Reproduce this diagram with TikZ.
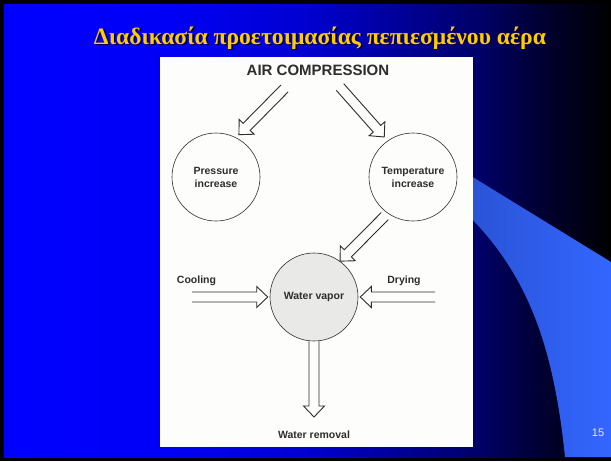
\documentclass[tikz,border=0pt]{standalone}
\usepackage{fontspec}
\setmainfont{Liberation Serif}
\newfontfamily\labelfont{Liberation Sans}
\usetikzlibrary{calc, positioning}

\definecolor{titlegold}{RGB}{255,204,0}
\definecolor{swoosh}{RGB}{51,102,255}
\definecolor{swooshdark}{RGB}{40,80,205}
\definecolor{ink}{RGB}{45,45,45}
\definecolor{vapor}{RGB}{233,233,231}
\definecolor{paper}{RGB}{253,253,251}
\pgfdeclarehorizontalshading{slidebg}{100bp}{rgb(0bp)=(0,0,1); rgb(25bp)=(0,0,1); rgb(38bp)=(0,0,0.97); rgb(50bp)=(0,0,0.82); rgb(64bp)=(0,0,0.42); rgb(70bp)=(0,0,0.18); rgb(75bp)=(0,0,0.02); rgb(100bp)=(0,0,0)}

\tikzset{
  tag/.style = {font=\labelfont\bfseries\fontsize{10.5}{13}\selectfont, text=ink},
  bubble/.style = {circle, draw=ink, line width=0.6pt, minimum size=88pt, inner sep=0pt,
    align=center, tag},
  hollow/.style = {draw=ink, line width=0.9pt, line join=miter, to path={
    let \p1=(\tikztostart), \p2=(\tikztotarget), \n1={atan2(\y2-\y1,\x2-\x1)} in
    ($(\p1)+(\n1+90:5pt)$) -- ($(\p2)+(\n1+180:11pt)+(\n1+90:5pt)$)
    -- ($(\p2)+(\n1+180:11pt)+(\n1+90:10.5pt)$) -- (\p2)
    -- ($(\p2)+(\n1+180:11pt)+(\n1-90:10.5pt)$)
    -- ($(\p2)+(\n1+180:11pt)+(\n1-90:5pt)$) -- ($(\p1)+(\n1-90:5pt)$)}}
}

\begin{document}
\begin{tikzpicture}[x=1pt, y=-1pt, node distance=100pt, on grid]
  \useasboundingbox (0,0) rectangle (611,461);
  \fill[black] (0,0) rectangle (611,461);
  \shade[shading=slidebg] (4,4) rectangle (607,457);
  \shade[left color=swooshdark, right color=swoosh]
    (440,157) -- (611,262) -- (611,457) -- (565,457)
    .. controls (552,330) and (520,255) .. (440,190) -- cycle;
  \fill[paper] (160,57) rectangle (473,447);

  \node[font=\bfseries\fontsize{23.6}{26}\selectfont, text=black!75!blue] at (321.5,39.5)
    {Διαδικασία προετοιμασίας πεπιεσμένου αέρα};
  \node[font=\bfseries\fontsize{23.6}{26}\selectfont, text=titlegold] (t) at (320,38)
    {Διαδικασία προετοιμασίας πεπιεσμένου αέρα};

  \node[tag, font=\labelfont\bfseries\fontsize{15}{17}\selectfont] (0) at (318,70) {AIR COMPRESSION};
  \node[bubble] (1) at (216,177) {Pressure\\increase};
  \node[bubble] [right=197pt of 1] (2) {Temperature\\increase};
  \node[bubble, fill=vapor] (3) at (314,297) {Water vapor};
  \node[tag] [below=138pt of 3] (4) {Water removal};
  \node[tag] (5) at (196.5,281) {Cooling};
  \node[tag] (6) at (404,281) {Drying};
  \node[font=\labelfont\fontsize{11}{13}\selectfont, text=white!85!gray] (7) at (598,433) {15};

  \coordinate (a) at (284.5,88.5);
  \coordinate (b) at (340,87);
  \coordinate (c) at (192,297);
  \coordinate (d) at (435,297);
  \coordinate (e) at (314,417);

  \path
    (a) edge[hollow] ($(1.63)!4pt!(a)$)
    (b) edge[hollow] ($(2.125)!5pt!(b)$)
    ($(2.235)!4pt!(3.54)$) edge[hollow] (3.54)
    (c) edge[hollow] ([xshift=-2pt]3.west)
    (d) edge[hollow] ([xshift=2pt]3.east)
    (3.south) edge[hollow] (e);
\end{tikzpicture}
\end{document}
